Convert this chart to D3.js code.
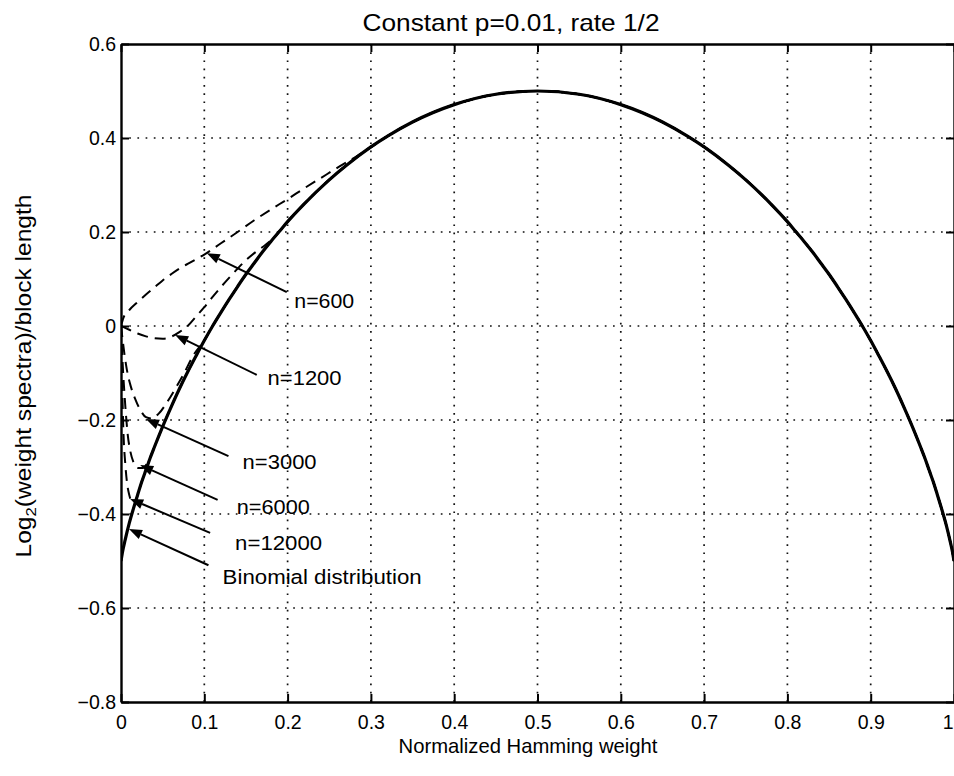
<!DOCTYPE html>
<html><head><meta charset="utf-8">
<script src="https://cdn.jsdelivr.net/npm/d3@7"></script>
<style>
html,body{margin:0;padding:0;background:#fff;}
svg{display:block;font-family:"Liberation Sans",Arial,Helvetica,sans-serif;}
</style></head>
<body>
<svg id="chart" width="954" height="776"></svg>
<script>
// ---- data ----
const xTickValues = [0,0.1,0.2,0.3,0.4,0.5,0.6,0.7,0.8,0.9,1];
const xTickLabels = ["0","0.1","0.2","0.3","0.4","0.5","0.6","0.7","0.8","0.9","1"];
const yTickValues = [-0.8,-0.6,-0.4,-0.2,0,0.2,0.4,0.6];
const yTickLabels = ["\u22120.8","\u22120.6","\u22120.4","\u22120.2","0","0.2","0.4","0.6"];

// Binomial distribution (solid)
const binomX = [0,0.002,0.005,0.01,0.015,0.02,0.025,0.03,0.035,0.04,0.05,0.06,0.07,0.08,0.09,0.1,0.11,0.12,0.13,0.14,0.15,0.16,0.17,0.18,0.19,0.2,0.22,0.25,0.27,0.3,0.32,0.35,0.4,0.45,0.5,0.55,0.6,0.65,0.68,0.7,0.73,0.75,0.78,0.8,0.81,0.82,0.83,0.84,0.85,0.86,0.87,0.88,0.89,0.9,0.91,0.92,0.93,0.94,0.95,0.96,0.965,0.97,0.975,0.98,0.985,0.99,0.995,0.998,1];
const binomY = [-0.5,-0.479,-0.455,-0.419,-0.388,-0.359,-0.331,-0.306,-0.281,-0.258,-0.214,-0.173,-0.134,-0.098,-0.064,-0.031,0.000,0.029,0.057,0.084,0.110,0.134,0.158,0.180,0.201,0.222,0.260,0.311,0.341,0.381,0.404,0.434,0.471,0.493,0.500,0.493,0.471,0.434,0.404,0.381,0.341,0.311,0.260,0.222,0.201,0.180,0.158,0.134,0.110,0.084,0.057,0.029,0.000,-0.031,-0.064,-0.098,-0.134,-0.173,-0.214,-0.258,-0.281,-0.306,-0.331,-0.359,-0.388,-0.419,-0.455,-0.479,-0.5];

// finite-length spectra (dashed), before they join the binomial curve
const n600X = [0,0.003,0.01,0.02,0.03,0.04,0.05,0.06,0.07,0.08,0.09,0.1,0.12,0.14,0.16,0.18,0.2,0.22,0.24,0.26,0.28,0.3];
const n600Y = [0,0.018,0.034,0.051,0.067,0.082,0.097,0.11,0.122,0.132,0.142,0.152,0.176,0.2,0.225,0.248,0.27,0.293,0.315,0.337,0.358,0.38];
const n1200X = [0,0.005,0.01,0.02,0.03,0.04,0.05,0.06,0.07,0.08,0.09,0.1,0.11,0.12,0.13,0.14,0.15,0.16,0.17,0.18,0.19,0.2];
const n1200Y = [0,-0.004,-0.008,-0.016,-0.022,-0.026,-0.027,-0.023,-0.013,0.0,0.02,0.04,0.062,0.083,0.103,0.122,0.14,0.155,0.168,0.182,0.201,0.222];
const n3000X = [0,0.002,0.004,0.006,0.008,0.012,0.017,0.023,0.03,0.037,0.045,0.055,0.065,0.075,0.087,0.1];
const n3000Y = [0,-0.03,-0.058,-0.082,-0.102,-0.13,-0.155,-0.178,-0.194,-0.197,-0.187,-0.163,-0.134,-0.103,-0.062,-0.031];
const n6000X = [0,0.001,0.002,0.004,0.006,0.008,0.011,0.015,0.02,0.026,0.032,0.04];
const n6000Y = [0,-0.04,-0.08,-0.14,-0.19,-0.23,-0.265,-0.29,-0.302,-0.302,-0.29,-0.258];
const n12000X = [0,0.0005,0.001,0.002,0.003,0.005,0.007,0.01,0.013,0.016,0.02];
const n12000Y = [0,-0.05,-0.1,-0.17,-0.23,-0.29,-0.33,-0.36,-0.375,-0.38,-0.359];

const seriesNames = ["n=600","n=1200","n=3000","n=6000","n=12000"];

// annotation labels: text, arrow tip (data), arrow tail (data), text left/centre (data)
const annLabels = ["n=600","n=1200","n=3000","n=6000","n=12000","Binomial distribution"];
const annTipX  = [0.103, 0.065, 0.030, 0.023, 0.011, 0.0096];
const annTipY  = [0.155, -0.019, -0.198, -0.296, -0.368, -0.432];
const annTailX = [0.199, 0.163, 0.129, 0.116, 0.107, 0.105];
const annTailY = [0.072, -0.104, -0.277, -0.370, -0.440, -0.509];
const annTextX = [0.208, 0.176, 0.146, 0.139, 0.137, 0.122];
const annTextY = [0.055, -0.109, -0.289, -0.385, -0.460, -0.534];
const annTextW = [60, 74, 74, 73, 87, 199];

const titleText = "Constant p=0.01, rate 1/2";
const xLabelText = "Normalized Hamming weight";

// ---- drawing ----
const svg = d3.select("#chart");
const x = d3.scaleLinear().domain([0,1]).range([121,954]);
const y = d3.scaleLinear().domain([-0.8,0.6]).range([702,44]);
const FONT = 19.5;

svg.append("defs").append("clipPath").attr("id","plotclip")
  .append("rect").attr("x",x(0)).attr("y",y(0.6)).attr("width",x(1)-x(0)).attr("height",y(-0.8)-y(0.6));

// grid
const grid = svg.append("g").attr("stroke","#111").attr("stroke-width",1.7)
  .attr("stroke-dasharray","1.7,6.5").attr("fill","none");
xTickValues.filter(v=>v>0 && v<1).forEach(v=>{
  grid.append("line").attr("x1",x(v)).attr("x2",x(v)).attr("y1",y(0.6)).attr("y2",y(-0.8));
});
yTickValues.filter(v=>v>-0.8 && v<0.6).forEach(v=>{
  grid.append("line").attr("x1",x(0)).attr("x2",x(1)).attr("y1",y(v)).attr("y2",y(v));
});

// axes
function styleAxis(g){
  g.selectAll("path.domain").attr("stroke","#000").attr("stroke-width",2.4);
  g.selectAll(".tick line").attr("stroke","#000").attr("stroke-width",2);
  g.selectAll(".tick text").attr("fill","#000").attr("font-size",FONT)
   .attr("font-family","'Liberation Sans',Arial,Helvetica,sans-serif");
}
const gB = svg.append("g").attr("transform",`translate(0,${y(-0.8)})`)
  .call(d3.axisBottom(x).tickValues(xTickValues).tickSize(-8).tickSizeOuter(0).tickPadding(13)
    .tickFormat((d,i)=>xTickLabels[i]));
styleAxis(gB);
// last label ("1") sits at the very right edge: keep it inside the picture
gB.selectAll(".tick text").filter((d,i)=>i===xTickValues.length-1).attr("text-anchor","end").attr("dx",-1);
const gL = svg.append("g").attr("transform",`translate(${x(0)},0)`)
  .call(d3.axisLeft(y).tickValues(yTickValues).tickSize(-8).tickSizeOuter(0).tickPadding(5)
    .tickFormat((d,i)=>yTickLabels[i]));
styleAxis(gL);
const gT = svg.append("g").attr("transform",`translate(0,${y(0.6)})`)
  .call(d3.axisTop(x).tickValues(xTickValues).tickSize(-8).tickSizeOuter(0).tickFormat(""));
styleAxis(gT);
const gR = svg.append("g").attr("transform",`translate(${x(1)},0)`)
  .call(d3.axisRight(y).tickValues(yTickValues).tickSize(-8).tickSizeOuter(0).tickFormat(""));
styleAxis(gR);

// curves
const line = d3.line().x(d=>x(d[0])).y(d=>y(d[1])).curve(d3.curveMonotoneX);
const plot = svg.append("g").attr("clip-path","url(#plotclip)");

const binom = binomX.map((v,i)=>[v,binomY[i]]);
function joinBinom(xs, ys){
  const pts = xs.map((v,i)=>[v,ys[i]]);
  const last = xs[xs.length-1];
  return pts.concat(binom.filter(p=>p[0]>last));
}
const dashedSets = [
  joinBinom(n600X,n600Y),
  joinBinom(n1200X,n1200Y),
  joinBinom(n3000X,n3000Y),
  joinBinom(n6000X,n6000Y),
  joinBinom(n12000X,n12000Y)
];
dashedSets.forEach((pts,i)=>{
  plot.append("path").datum(pts).attr("class","series").attr("data-name",seriesNames[i])
    .attr("d",line).attr("fill","none").attr("stroke","#000").attr("stroke-width",2)
    .attr("stroke-dasharray","11,7");
});
plot.append("path").datum(binom).attr("class","series").attr("data-name","Binomial distribution")
  .attr("d",line).attr("fill","none").attr("stroke","#000").attr("stroke-width",3.2);

// annotations
const ann = svg.append("g");
annLabels.forEach((t,i)=>{
  const x1=x(annTailX[i]), y1=y(annTailY[i]), x2=x(annTipX[i]), y2=y(annTipY[i]);
  const ang = Math.atan2(y2-y1, x2-x1);
  const L=13, Wd=5;
  const bx = x2 - L*Math.cos(ang), by = y2 - L*Math.sin(ang);
  ann.append("line").attr("x1",x1).attr("y1",y1).attr("x2",bx).attr("y2",by)
    .attr("stroke","#000").attr("stroke-width",2);
  const p = [[x2,y2],[bx+Wd*Math.sin(ang), by-Wd*Math.cos(ang)],[bx-Wd*Math.sin(ang), by+Wd*Math.cos(ang)]];
  ann.append("polygon").attr("points",p.map(q=>q.join(",")).join(" ")).attr("fill","#000");
  ann.append("text").attr("x",x(annTextX[i])).attr("y",y(annTextY[i]))
    .attr("dominant-baseline","central").attr("font-size",20.5)
    .attr("textLength",annTextW[i]).attr("lengthAdjust","spacingAndGlyphs")
    .attr("fill","#000").text(t);
});

// title and labels
svg.append("text").attr("x",511).attr("y",31).attr("text-anchor","middle")
  .attr("font-size",24).attr("textLength",297).attr("lengthAdjust","spacingAndGlyphs")
  .attr("fill","#000").text(titleText);
svg.append("text").attr("x",528).attr("y",753).attr("text-anchor","middle")
  .attr("font-size",21).attr("textLength",259).attr("lengthAdjust","spacingAndGlyphs")
  .attr("fill","#000").text(xLabelText);
const yl = svg.append("text").attr("transform","translate(31,376) rotate(-90)")
  .attr("text-anchor","middle").attr("font-size",22)
  .attr("textLength",363).attr("lengthAdjust","spacingAndGlyphs").attr("fill","#000");
yl.append("tspan").text("Log");
yl.append("tspan").attr("font-size",15).attr("dy",5).text("2");
yl.append("tspan").attr("dy",-5).text("(weight spectra)/block length");
</script>
</body></html>
